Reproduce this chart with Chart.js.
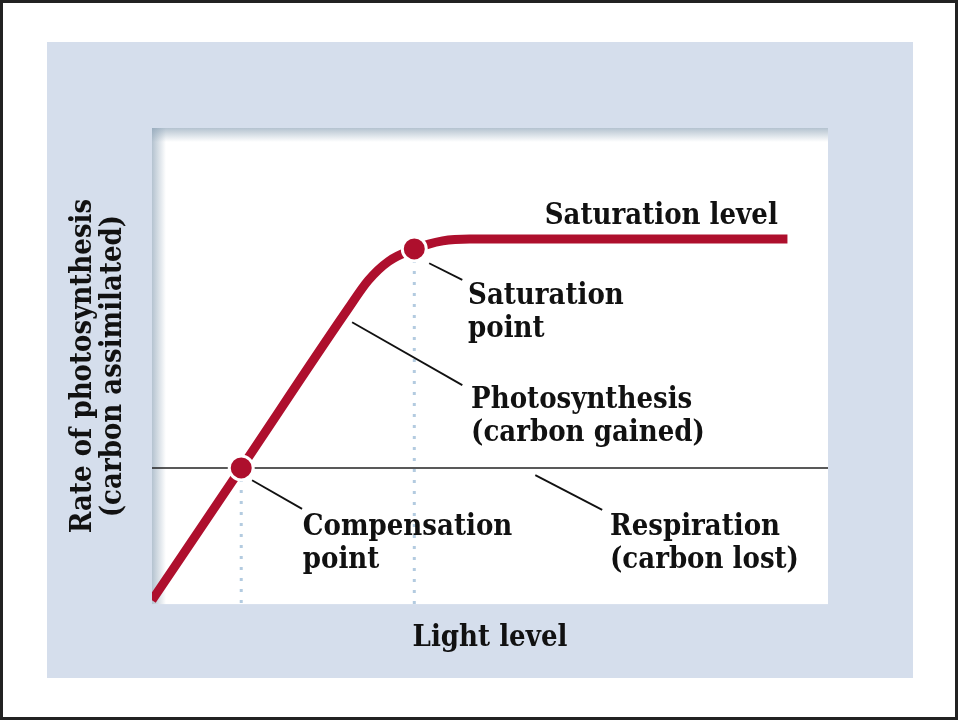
<!DOCTYPE html>
<html>
<head>
<meta charset="utf-8">
<script src="https://cdn.jsdelivr.net/npm/chart.js@4.4.1/dist/chart.umd.min.js"></script>
<style>
  html, body { margin: 0; padding: 0; background: #fff; }
  canvas { display: block; }
</style>
</head>
<body>
<canvas id="chart" width="958" height="720"></canvas>
<script>
// light level (x) and rate of photosynthesis (y), both on a 0-100 scale
var lightLevel = [0, 13.2, 29, 32, 35, 38.8, 43, 47, 94];
var photoRate = [0.8, 28.6, 62, 68, 72, 74.6, 76.3, 76.7, 76.7];

var respirationX = [0, 100];
var respirationY = [28.6, 28.6];

var keyPointX = [13.2, 38.8]; // compensation, saturation
var keyPointY = [28.6, 74.6];

// leader lines: [x0, y0, x1, y1]
var leaders = [
  [14.8, 26.0, 22.2, 20.0],
  [41.0, 71.6, 45.9, 68.1],
  [29.6, 59.2, 45.9, 46.0],
  [56.7, 27.1, 66.6, 19.8]
];

var labelText = [
  ["Saturation level"],
  ["Saturation", "point"],
  ["Photosynthesis", "(carbon gained)"],
  ["Compensation", "point"],
  ["Respiration", "(carbon lost)"]
];
var labelAt = [[58.1, 79.8], [46.75, 63.0], [47.2, 41.2], [22.3, 14.5], [67.75, 14.5]];

var RED = "#ae0f2d";
var FONT = "'DejaVu Serif Condensed', 'DejaVu Serif', serif";

function pts(xs, ys) {
  return xs.map(function (x, i) { return { x: x, y: ys[i] }; });
}

var datasets = [];

// curve
datasets.push({
  data: pts(lightLevel, photoRate),
  borderColor: RED,
  borderWidth: 9,
  pointRadius: 0,
  cubicInterpolationMode: "monotone",
  borderCapStyle: "butt",
  clip: 0,
  order: 1
});

// respiration line
datasets.push({
  data: pts(respirationX, respirationY),
  borderColor: "#222",
  borderWidth: 1.5,
  pointRadius: 0,
  order: 4
});

// dotted drops from each key point
for (let i = 0; i < keyPointX.length; i++) {
  datasets.push({
    data: [{ x: keyPointX[i], y: keyPointY[i] }, { x: keyPointX[i], y: 0 }],
    borderColor: "#b3cbe0",
    borderWidth: 3,
    borderDash: [3, 8],
    pointRadius: 0,
    order: 5
  });
}

// leader lines
for (let l of leaders) {
  datasets.push({
    data: [{ x: l[0], y: l[1] }, { x: l[2], y: l[3] }],
    borderColor: "#111",
    borderWidth: 1.8,
    pointRadius: 0,
    order: 3
  });
}

// key points
datasets.push({
  data: pts(keyPointX, keyPointY),
  showLine: false,
  pointRadius: 12,
  pointBackgroundColor: RED,
  pointBorderColor: "#fff",
  pointBorderWidth: 3,
  clip: false,
  order: 0
});

var backdrop = {
  id: "backdrop",
  beforeDraw: (chart) => {
    let ctx = chart.ctx;
    let a = chart.chartArea;
    ctx.save();
    ctx.fillStyle = "#fff";
    ctx.fillRect(0, 0, chart.width, chart.height);
    ctx.fillStyle = "#d5deec";
    ctx.fillRect(47, 42, 866, 636);
    ctx.fillStyle = "#fff";
    ctx.fillRect(a.left, a.top, a.right - a.left, a.bottom - a.top);

    // inner shadow on top and left edge of the plot
    let g = ctx.createLinearGradient(a.left, 0, a.left + 14, 0);
    g.addColorStop(0, "rgba(140,162,182,0.65)");
    g.addColorStop(1, "rgba(140,162,182,0)");
    ctx.fillStyle = g;
    ctx.fillRect(a.left, a.top, 14, a.bottom - a.top);
    g = ctx.createLinearGradient(0, a.top, 0, a.top + 14);
    g.addColorStop(0, "rgba(140,162,182,0.65)");
    g.addColorStop(1, "rgba(140,162,182,0)");
    ctx.fillStyle = g;
    ctx.fillRect(a.left, a.top, a.right - a.left, 14);

    ctx.strokeStyle = "#222";
    ctx.lineWidth = 3;
    ctx.strokeRect(1.5, 1.5, chart.width - 3, chart.height - 3);
    ctx.restore();
  },
  afterDatasetsDraw: (chart) => {
    let ctx = chart.ctx;
    let xs = chart.scales.x, ys = chart.scales.y;
    ctx.save();
    ctx.fillStyle = "#111";
    ctx.font = "bold 29px " + FONT;
    ctx.textBaseline = "alphabetic";
    ctx.textAlign = "left";
    labelText.forEach((lines, i) => {
      let px = xs.getPixelForValue(labelAt[i][0]);
      let py = ys.getPixelForValue(labelAt[i][1]);
      lines.forEach((t, j) => ctx.fillText(t, px, py + j * 33));
    });
    ctx.restore();
  }
};

new Chart(document.getElementById("chart"), {
  type: "line",
  data: { datasets: datasets },
  options: {
    responsive: false,
    animation: false,
    events: [],
    layout: { padding: { left: 68, right: 130, top: 128, bottom: 66 } },
    plugins: { legend: { display: false }, tooltip: { enabled: false } },
    scales: {
      x: {
        type: "linear",
        min: 0,
        max: 100,
        ticks: { display: false },
        grid: { display: false, drawTicks: false },
        border: { display: false },
        title: {
          display: true,
          text: "Light level",
          color: "#111",
          font: { family: FONT, size: 29, weight: "bold", lineHeight: 1.1 },
          padding: { top: 18, bottom: 0 }
        }
      },
      y: {
        type: "linear",
        min: 0,
        max: 100,
        ticks: { display: false },
        grid: { display: false, drawTicks: false },
        border: { display: false },
        title: {
          display: true,
          text: ["Rate of photosynthesis", "(carbon assimilated)"],
          color: "#111",
          font: { family: FONT, size: 29, weight: "bold", lineHeight: "30px" },
          padding: { top: 0, bottom: 24 }
        }
      }
    }
  },
  plugins: [backdrop]
});
</script>
</body>
</html>
